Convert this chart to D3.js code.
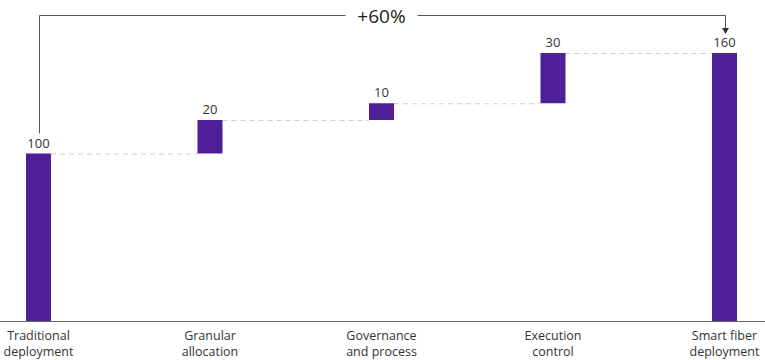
<!DOCTYPE html>
<html lang="en">
<head>
    <meta charset="UTF-8">
    <title>Smart fiber deployment waterfall</title>
    <script src="https://d3js.org/d3.v7.min.js"></script>
    <style>
        body{
            margin: 0;
            font-family: "Open Sans", Arial, sans-serif;
            background: white;
        }
        svg{
            display: block;
        }
    </style>
</head>
<body>
<svg></svg>
<script>
    const width = 765;
    const height = 360;

    const categories = [['Traditional', 'deployment'], ['Granular', 'allocation'], ['Governance', 'and process'], ['Execution', 'control'], ['Smart fiber', 'deployment']];
    const values = [100, 20, 10, 30, 160];
    const kinds = ['total', 'step', 'step', 'step', 'total'];
    const changeLabel = '+60%';

    const svg = d3.select('svg')
        .attr('width', width)
        .attr('height', height);

    /* build start/end of each bar */
    let running = 0;
    const bars = values.map(function(v, i){
        let start, end;
        if(kinds[i] === 'total'){
            start = 0; end = v; running = v;
        }else{
            start = running; end = running + v; running = end;
        }
        return {i: i, value: v, start: start, end: end};
    });

    const x = d3.scalePoint()
        .domain(d3.range(categories.length))
        .range([38.5, 724.5]);
    const barW = 25;

    const y = d3.scaleLinear()
        .domain([0, 160])
        .range([321, 53]);

    /* dashed connectors */
    svg.selectAll('line.conn')
        .data(bars.slice(0, -1))
        .enter().append('line')
        .attr('class', 'conn')
        .attr('x1', d => x(d.i) + barW / 2)
        .attr('x2', d => x(d.i + 1) - barW / 2)
        .attr('y1', d => y(d.end) + 0.5)
        .attr('y2', d => y(d.end) + 0.5)
        .attr('stroke', '#cfcfcf')
        .attr('stroke-width', 1)
        .attr('stroke-dasharray', '5,4');

    /* bars */
    svg.selectAll('rect.bar')
        .data(bars)
        .enter().append('rect')
        .attr('class', 'bar')
        .attr('x', d => x(d.i) - barW / 2)
        .attr('width', barW)
        .attr('y', d => y(Math.max(d.start, d.end)))
        .attr('height', d => Math.abs(y(d.start) - y(d.end)))
        .attr('fill', '#4f1f99');

    /* value labels */
    svg.selectAll('text.val')
        .data(bars)
        .enter().append('text')
        .attr('class', 'val')
        .attr('x', d => x(d.i))
        .attr('y', d => y(d.end) - 6)
        .attr('text-anchor', 'middle')
        .attr('font-size', 13)
        .attr('fill', '#333')
        .text(d => d.value);

    /* baseline */
    svg.append('line')
        .attr('x1', 0).attr('x2', width)
        .attr('y1', y(0) + 0.5).attr('y2', y(0) + 0.5)
        .attr('stroke', '#666')
        .attr('stroke-width', 1);

    /* category labels, two lines each */
    categories.forEach(function(lines, i){
        lines.forEach(function(line, j){
            svg.append('text')
                .attr('class', 'cat')
                .attr('x', x(i))
                .attr('y', 340 + j * 16)
                .attr('text-anchor', 'middle')
                .attr('font-size', 12.5)
                .attr('fill', '#333')
                .text(line);
        });
    });

    /* +60% bracket */
    const topY = 15.5;
    const x0 = Math.round(x(0)) + 0.5;
    const x1 = Math.round(x(categories.length - 1)) + 0.5;
    const mid = (x(0) + x(categories.length - 1)) / 2;
    const gap = 36;
    svg.append('path')
        .attr('d', 'M' + x0 + ',' + (y(100) - 20) + 'V' + topY + 'H' + (mid - gap))
        .attr('fill', 'none')
        .attr('stroke', '#555')
        .attr('stroke-width', 1);
    svg.append('path')
        .attr('d', 'M' + (mid + gap) + ',' + topY + 'H' + x1 + 'V' + 28)
        .attr('fill', 'none')
        .attr('stroke', '#555')
        .attr('stroke-width', 1);
    svg.append('path')
        .attr('d', 'M' + (x1 - 3.5) + ',28L' + (x1 + 3.5) + ',28L' + x1 + ',34Z')
        .attr('fill', '#333');
    svg.append('text')
        .attr('x', mid)
        .attr('y', topY + 7)
        .attr('text-anchor', 'middle')
        .attr('font-size', 19)
        .attr('fill', '#222')
        .text(changeLabel);
</script>
</body>
</html>
